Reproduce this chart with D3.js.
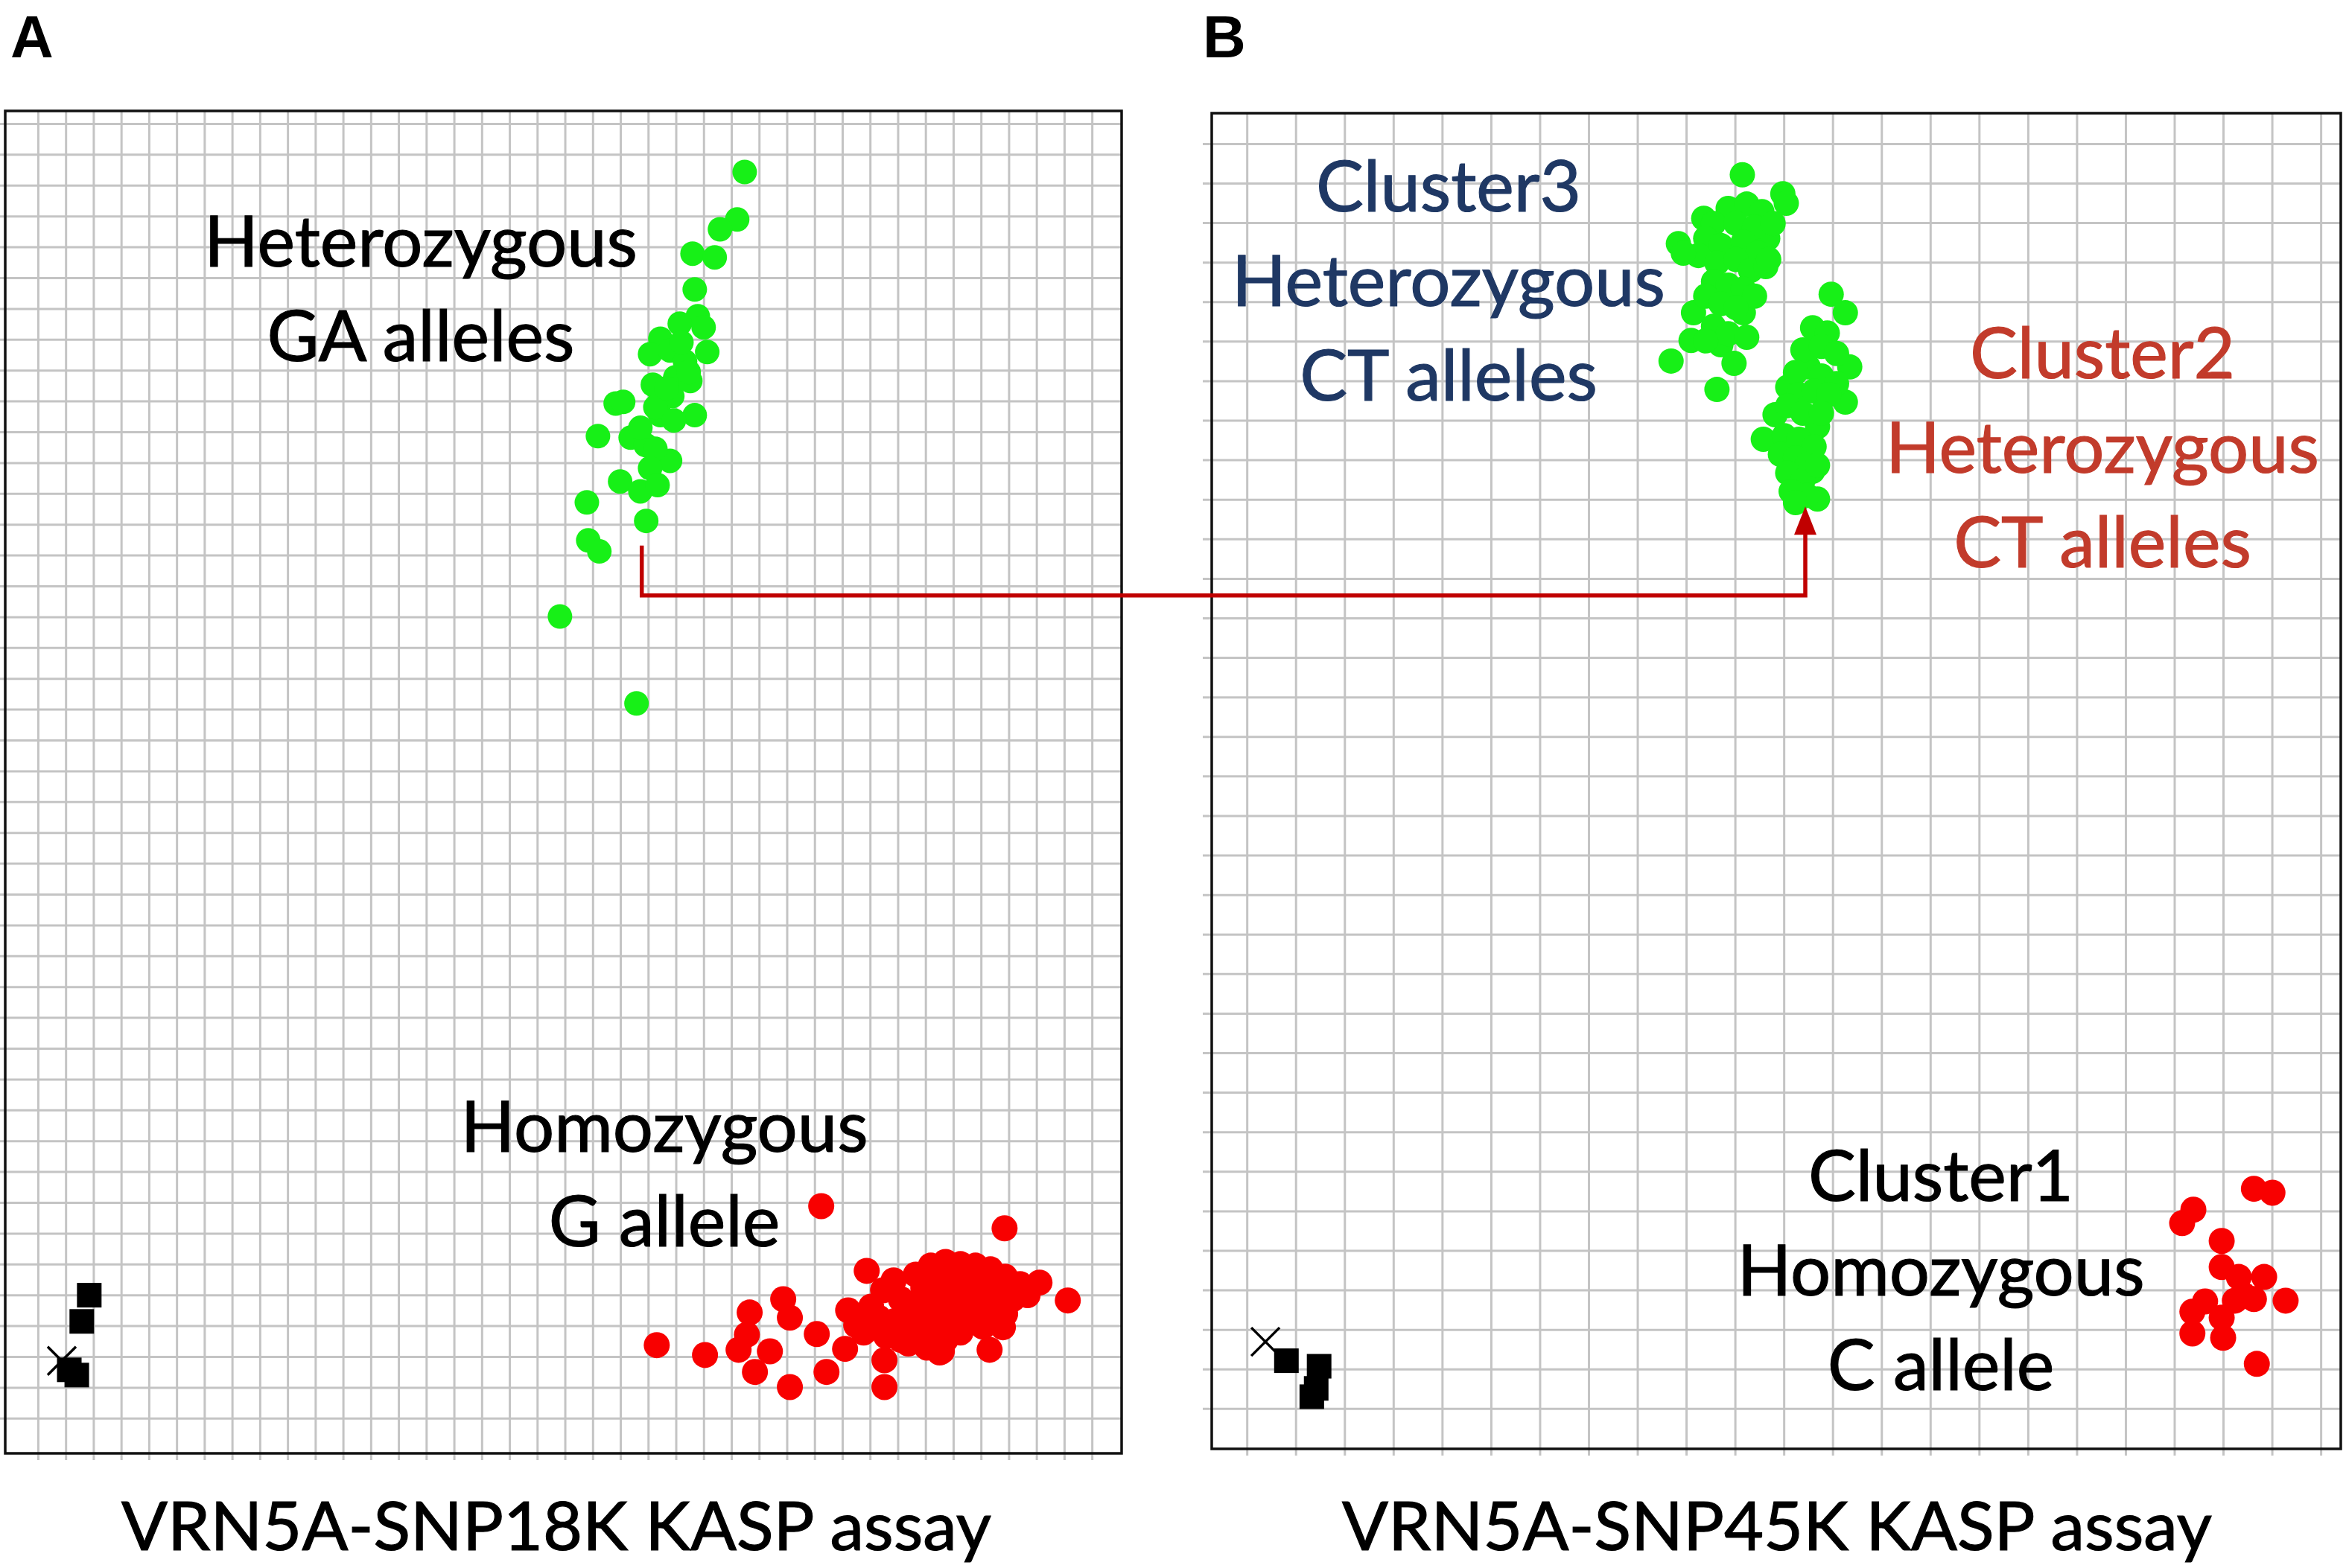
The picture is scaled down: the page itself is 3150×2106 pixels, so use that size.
<!DOCTYPE html>
<html>
<head>
<meta charset="utf-8">
<script src="https://cdn.jsdelivr.net/npm/d3@7"></script>
<style>
body { margin: 0; background: #fff; }
</style>
</head>
<body>
<svg id="chart"></svg>
<script>
// ---- data: KASP allele signal (x = allele 1, y = allele 2) ----
// panel A, VRN5A-SNP18K
const aHet = [
  [2.548,4.043],[2.521,3.889],[2.459,3.857],[2.360,3.778],[2.440,3.766],[2.368,3.662],
  [2.379,3.575],[2.314,3.551],[2.244,3.502],[2.207,3.452],[2.279,3.464],[2.413,3.459],
  [2.333,3.428],[2.298,3.377],[2.352,3.365],[2.217,3.353],[2.244,3.304],[2.083,3.292],
  [2.110,3.297],[2.287,3.316],[2.368,3.254],[2.244,3.254],[2.226,3.280],[2.019,3.186],
  [2.137,3.181],[2.191,3.157],[2.279,3.106],[2.226,3.145],[2.207,3.082],[2.099,3.039],
  [2.172,3.007],[2.234,3.027],[1.979,2.971],[2.193,2.911],[1.984,2.848],[2.024,2.812],
  [1.882,2.601],[2.158,2.319],[2.320,3.490],[2.346,3.394],[2.266,3.341],[2.400,3.539],
  [2.293,3.237],[2.172,3.213]
]
const aHom = [
  [2.824,0.688],[3.485,0.616],[2.231,0.237],[2.405,0.205],[2.566,0.343],[2.687,0.386],
  [2.711,0.326],[2.556,0.271],[2.526,0.222],[2.639,0.217],[2.585,0.150],[2.711,0.101],
  [2.808,0.273],[2.843,0.150],[2.910,0.225],[2.921,0.350],[2.988,0.478],[3.047,0.415],
  [3.052,0.188],[3.052,0.101],[3.251,0.213],[3.431,0.222],[3.479,0.295],[3.611,0.440],
  [3.713,0.382],
  [3.165,0.466],[3.219,0.495],[3.272,0.507],[3.326,0.500],[3.380,0.495],[3.434,0.483],
  [3.487,0.459],[3.541,0.435],[3.192,0.423],[3.246,0.435],[3.299,0.447],[3.353,0.435],
  [3.407,0.423],[3.460,0.411],[3.514,0.386],[3.568,0.399],[3.111,0.386],[3.165,0.374],
  [3.219,0.379],[3.272,0.386],[3.326,0.374],[3.380,0.362],[3.434,0.350],[3.487,0.338],
  [3.031,0.326],[3.085,0.314],[3.138,0.326],[3.192,0.321],[3.246,0.326],[3.299,0.307],
  [3.353,0.314],[3.407,0.297],[2.977,0.278],[3.058,0.266],[3.111,0.254],[3.165,0.278],
  [3.219,0.266],[3.272,0.254],[3.326,0.278],[2.950,0.302],[3.085,0.447],[3.004,0.362],
  [3.138,0.242],[3.205,0.229],[3.259,0.217]
]
const aNtc = [[0.185,0.399],[0.158,0.314],[0.113,0.157],[0.140,0.140]]
const aBlank = [[0.086,0.186]]

// panel B, VRN5A-SNP45K
const bCluster3 = [
  [1.015,3.121],[1.098,3.073],[1.105,3.049],[0.936,3.011],[0.884,2.947],[1.067,2.960],
  [0.915,2.772],[1.017,2.772],[0.910,2.702],[0.971,2.691],[0.869,2.650],[0.998,2.644],
  [0.963,2.578],
  [0.986,3.036],[1.024,3.047],[1.055,3.028],[0.956,2.998],[1.002,2.998],[1.040,2.989],
  [1.078,2.998],[0.940,2.960],[0.971,2.942],[1.017,2.951],[1.047,2.923],[0.925,2.917],
  [0.963,2.898],[1.002,2.907],[1.032,2.879],[1.063,2.889],[0.956,2.851],[0.986,2.842],
  [1.017,2.832],[1.040,2.814],[0.940,2.814],[0.971,2.795],[1.002,2.785],[0.956,2.738],
  [0.986,2.719],[1.024,2.710],[0.940,2.701],[0.894,2.923],[1.069,2.907]
]
const bCluster2 = [
  [1.197,2.819],[1.226,2.772],[1.159,2.734],[1.189,2.721],[1.235,2.635],[1.150,2.635],
  [1.108,2.584],[1.226,2.546],[1.082,2.514],[1.058,2.452],[1.169,2.484],[1.159,2.371],
  [1.169,2.301],
  [1.139,2.678],[1.177,2.687],[1.208,2.669],[1.124,2.621],[1.177,2.612],[1.208,2.593],
  [1.131,2.565],[1.162,2.574],[1.192,2.565],[1.108,2.537],[1.139,2.518],[1.177,2.518],
  [1.101,2.461],[1.131,2.452],[1.162,2.433],[1.093,2.414],[1.124,2.405],[1.147,2.386],
  [1.108,2.367],[1.139,2.348],[1.169,2.386],[1.115,2.320],[1.147,2.310],[1.124,2.292]
]
const bCluster1 = [
  [2.063,0.556],[2.101,0.546],[1.939,0.503],[1.916,0.469],[1.997,0.424],[1.997,0.358],
  [2.032,0.333],[2.084,0.333],[2.128,0.273],[2.063,0.277],[2.024,0.273],[1.963,0.271],
  [1.937,0.245],[1.997,0.230],[1.937,0.190],[2.000,0.179],[2.069,0.113],[2.043,0.286]
]
const bNtc = [[0.081,0.121],[0.148,0.107],[0.142,0.051],[0.133,0.030]]
const bBlank = [[0.038,0.169]]

// label text
const aHetLabel = ['Heterozygous', 'GA alleles']
const aHomLabel = ['Homozygous', 'G allele']
const bC3Label = ['Cluster3', 'Heterozygous', 'CT alleles']
const bC2Label = ['Cluster2', 'Heterozygous', 'CT alleles']
const bC1Label = ['Cluster1', 'Homozygous', 'C allele']
const titles = ['VRN5A-SNP18K KASP assay', 'VRN5A-SNP45K KASP assay']

// ---- setup ----
const W = 3150, H = 2106
const FONT = 'Lato, "Open Sans", sans-serif'
const GREEN = '#17f017', RED = '#f80000', NAVY = '#1f3864', BRICK = '#c23b2b', ARROW = '#c00000'

const svg = d3.select('#chart').attr('width', W).attr('height', H)
  .style('font-family', FONT)

// fit the text size to the widths seen in the figure
const measure = (txt, target) => {
  const t = svg.append('text').style('font-size', '100px').text(txt)
  const k = target / t.node().getComputedTextLength()
  t.remove()
  return 100 * k
}
const labelSize = measure('Heterozygous', 582)
const titleSize = measure(titles[0], 1168)

const panels = [
  { letter: 'A', box: [7, 149, 1506, 1952], xDom: [-0.118, 3.907], yDom: [-0.114, 4.241],
    xTicks: d3.range(39).map(i => i / 10), yTicks: d3.range(43).map(i => i / 10), tickOut: 8 },
  { letter: 'B', box: [1627, 152, 3143, 1946], xDom: [-0.072, 2.241], yDom: [-0.102, 3.277],
    xTicks: d3.range(23).map(i => i / 10), yTicks: d3.range(33).map(i => i / 10), tickOut: 12 }
]

const drawPanel = p => {
  const [x0, y0, x1, y1] = p.box
  const x = d3.scaleLinear().domain(p.xDom).range([x0, x1])
  const y = d3.scaleLinear().domain(p.yDom).range([y1, y0])
  const g = svg.append('g')

  // grid from the axes
  g.append('g').attr('transform', `translate(${x0},0)`)
    .call(d3.axisLeft(y).tickValues(p.yTicks).tickSize(-(x1 - x0)).tickFormat(''))
    .call(a => a.select('.domain').remove())
    .call(a => a.selectAll('.tick line').attr('x1', -p.tickOut)
      .attr('stroke', '#c4c4c4').attr('stroke-width', 3))
  g.append('g').attr('transform', `translate(0,${y1})`)
    .call(d3.axisBottom(x).tickValues(p.xTicks).tickSize(-(y1 - y0)).tickFormat(''))
    .call(a => a.select('.domain').remove())
    .call(a => a.selectAll('.tick line').attr('y1', 9)
      .attr('stroke', '#c4c4c4').attr('stroke-width', 3))

  g.append('rect')
    .attr('x', x0).attr('y', y0).attr('width', x1 - x0).attr('height', y1 - y0)
    .attr('fill', 'none').attr('stroke', '#111').attr('stroke-width', 3.5)

  svg.append('text')
    .attr('x', p.letter === 'A' ? 14 : 1615).attr('y', 77)
    .style('font-family', '"Liberation Sans", Arial, sans-serif')
    .style('font-weight', 'bold').style('font-size', '80px')
    .text(p.letter)

  return { x, y, g }
}

const dots = (pan, data, color, r) => {
  pan.g.append('g').selectAll('circle')
    .data(data).enter().append('circle')
    .attr('cx', d => pan.x(d[0])).attr('cy', d => pan.y(d[1]))
    .attr('r', r).attr('fill', color)
}
const squares = (pan, data) => {
  const s = 33
  pan.g.append('g').selectAll('rect')
    .data(data).enter().append('rect')
    .attr('x', d => pan.x(d[0]) - s / 2).attr('y', d => pan.y(d[1]) - s / 2)
    .attr('width', s).attr('height', s).attr('fill', '#000')
}
const crosses = (pan, data) => {
  const h = 19
  pan.g.append('g').selectAll('path')
    .data(data).enter().append('path')
    .attr('d', d => {
      const cx = pan.x(d[0]), cy = pan.y(d[1])
      return `M${cx - h},${cy - h}L${cx + h},${cy + h}M${cx - h},${cy + h}L${cx + h},${cy - h}`
    })
    .attr('stroke', '#000').attr('stroke-width', 3.5)
}
const label = (lines, cx, baseline, color) => {
  svg.append('g').selectAll('text')
    .data(lines).enter().append('text')
    .attr('x', cx).attr('y', (d, i) => baseline + i * 127)
    .attr('text-anchor', 'middle')
    .style('font-size', labelSize + 'px').attr('fill', color)
    .attr('stroke', color).attr('stroke-width', 1.2)
    .text(d => d)
}

// ---- panel A ----
const pA = drawPanel(panels[0])
dots(pA, aHet, GREEN, 16.5)
dots(pA, aHom, RED, 17.5)
squares(pA, aNtc)
crosses(pA, aBlank)

// ---- panel B ----
const pB = drawPanel(panels[1])
dots(pB, bCluster3, GREEN, 17)
dots(pB, bCluster2, GREEN, 17)
dots(pB, bCluster1, RED, 17.5)
squares(pB, bNtc)
crosses(pB, bBlank)

// ---- labels ----
label(aHetLabel, 565, 358, '#000')
label(aHomLabel, 892, 1547, '#000')
label(bC3Label, 1945, 284, NAVY)
label(bC2Label, 2823, 508, BRICK)
label(bC1Label, 2606, 1613, '#000')

svg.selectAll('.title')
  .data(titles).enter().append('text')
  .attr('class', 'title')
  .attr('x', (d, i) => i === 0 ? 747 : 2386).attr('y', 2082)
  .attr('text-anchor', 'middle')
  .style('font-size', titleSize + 'px')
  .attr('stroke', '#000').attr('stroke-width', 1.2)
  .text(d => d)

// ---- arrow linking the A heterozygotes to B cluster2 ----
const ax = pA.x(2.177), ay0 = pA.y(2.831), ay1 = pA.y(2.669)
const bx = pB.x(1.144), tipY = pB.y(2.282)
svg.append('path')
  .attr('d', `M${ax},${ay0}V${ay1}H${bx}V${tipY + 34}`)
  .attr('fill', 'none').attr('stroke', ARROW).attr('stroke-width', 5.5)
svg.append('path')
  .attr('d', `M${bx},${tipY}L${bx - 15},${tipY + 38}L${bx + 15},${tipY + 38}Z`)
  .attr('fill', ARROW)
</script>
</body>
</html>
